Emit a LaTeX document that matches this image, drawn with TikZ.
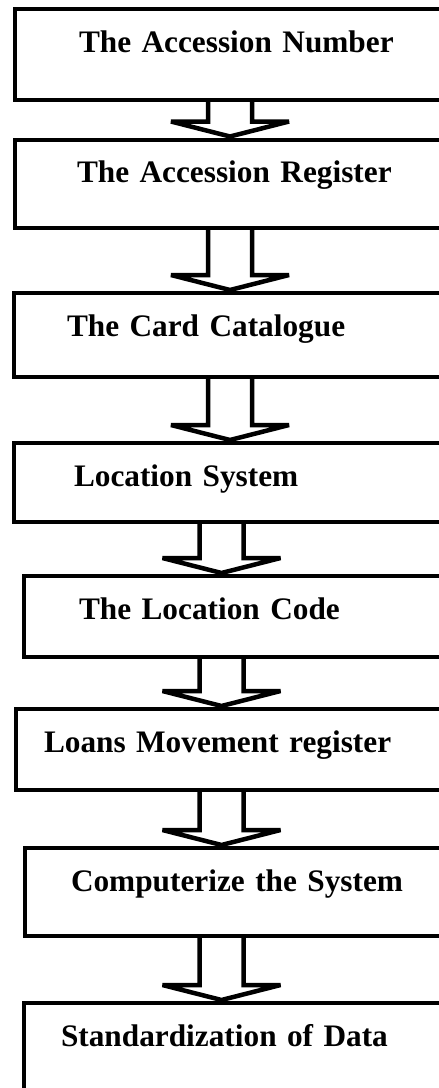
\documentclass[tikz,border=0pt]{standalone}
\usepackage{fontspec}
\setmainfont{Liberation Serif}
\usetikzlibrary{calc}
\tikzset{
	stage/.style={draw,line width=4pt,outer sep=0pt,anchor=north west,align=left,
		text width=520pt,inner ysep=0pt,text height=43pt,
		font=\fontsize{31.3}{36}\selectfont\bfseries},
	flow/.style={draw,line width=4.5pt,line join=miter,miter limit=3}
}
% hollow block arrow: from, to, axis x
\newcommand{\flowarrow}[3]{%
	\draw[flow] let \p1=(#1.south), \p2=(#2.north) in
	(#3-22,\y1) -- (#3-22,\y2+18pt) -- (#3-59,\y2+18pt) -- (#3,\y2+3pt)
	-- (#3+59,\y2+18pt) -- (#3+22,\y2+18pt) -- (#3+22,\y1);}

\begin{document}
\begin{tikzpicture}[x=1pt,y=-1pt]
	\useasboundingbox (0,0) rectangle (439,1088);
	\clip (0,0) rectangle (439,1088);
	
	\node[stage,inner xsep=64pt,text depth=48pt] (number) at (15,9) {The Accession Number};
	\node[stage,inner xsep=62pt,text depth=45.5pt] (register) at (15,139.5) {The Accession Register};
	\node[stage,inner xsep=53.5pt,text depth=41pt] (catalogue) at (13.5,293) {The Card Catalogue};
	\node[stage,inner xsep=60.5pt,text depth=36pt] (system) at (13.5,443) {Location System};
	\node[stage,inner xsep=55.5pt,text depth=38pt] (code) at (23.5,576) {The Location Code};
	\node[stage,inner xsep=28pt,text depth=38pt] (loans) at (16,709) {Loans Movement register};
	\node[stage,inner xsep=46pt,text depth=45pt] (computer) at (25,848) {Computerize the System};
	\node[stage,inner xsep=37.5pt,text depth=57pt] (data) at (23.5,1003) {Standardization of Data};
	
	\flowarrow{number}{register}{230}
	\flowarrow{register}{catalogue}{230}
	\flowarrow{catalogue}{system}{230}
	\flowarrow{system}{code}{221.5}
	\flowarrow{code}{loans}{221.5}
	\flowarrow{loans}{computer}{221.5}
	\flowarrow{computer}{data}{221.5}
\end{tikzpicture}
\end{document}
